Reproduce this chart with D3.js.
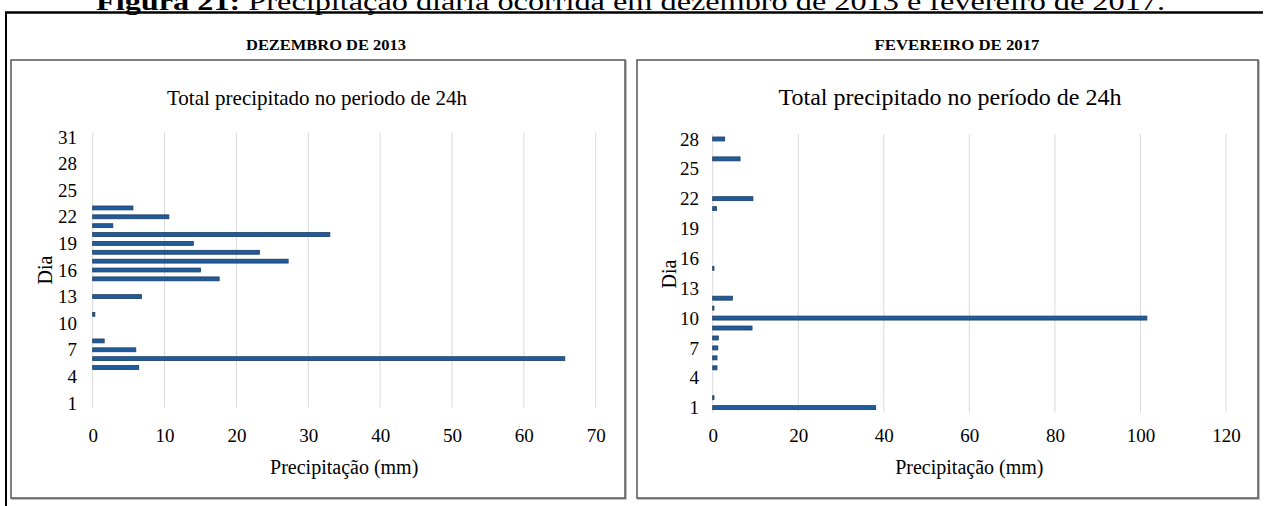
<!DOCTYPE html>
<meta charset="UTF-8">
<head>
<script src="https://d3js.org/d3.v7.min.js"></script>
</head>
<style>
body { margin: 0; background: #fff; }
.grid line { stroke: #d9d9d9; stroke-width: 1px; }
.tick-lbl { font-size: 19px; }
.bar { fill: #1f5c9c; stroke: #1d3c62; stroke-width: 0.8px; }
</style>
<body>
<div id="chart"></div>
<script>

// data
var dezDias    = [5, 6, 7, 8, 11, 13, 15, 16, 17, 18, 19, 20, 21, 22, 23];
var dezValores = [6.4, 65.7, 6.0, 1.6, 0.3, 6.8, 17.6, 15.0, 27.2, 23.2, 14.0, 33.0, 2.8, 10.6, 5.6];
var dezTicksY  = [1, 4, 7, 10, 13, 16, 19, 22, 25, 28, 31];
var dezTicksX  = [0, 10, 20, 30, 40, 50, 60, 70];

var fevDias    = [1, 2, 5, 6, 7, 8, 9, 10, 11, 12, 15, 21, 22, 26, 28];
var fevValores = [38.1, 0.3, 1.0, 1.0, 1.2, 1.3, 9.2, 101.5, 0.3, 4.6, 0.3, 0.9, 9.4, 6.4, 2.8];
var fevTicksY  = [1, 4, 7, 10, 13, 16, 19, 22, 25, 28];
var fevTicksX  = [0, 20, 40, 60, 80, 100, 120];

var W = 1265, H = 506;
var SERIF = "'Liberation Serif', Times, 'Times New Roman', serif";

var svg = d3.select("#chart").append("svg")
    .attr("width", W)
    .attr("height", H);

// caption (cut at top in the original)
var cap = svg.append("text")
    .attr("x", 96).attr("y", 10)
    .attr("textLength", 1069)
    .attr("lengthAdjust", "spacingAndGlyphs")
    .style("font-size", "25px");
cap.append("tspan").style("font-weight", "bold").text("Figura 21:");
cap.append("tspan").text(" Precipitação diária ocorrida em dezembro de 2013 e fevereiro de 2017.");

// outer frame
svg.append("line").attr("x1", 5).attr("x2", 1263).attr("y1", 12.5).attr("y2", 12.5)
    .attr("stroke", "#000").attr("stroke-width", 2.5);
svg.append("line").attr("x1", 6).attr("x2", 6).attr("y1", 12).attr("y2", H)
    .attr("stroke", "#000").attr("stroke-width", 2);

function painel(cfg) {
  // section header
  svg.append("text")
      .attr("x", cfg.headX).attr("y", 50)
      .attr("text-anchor", "middle")
      .attr("textLength", cfg.headW)
      .attr("lengthAdjust", "spacingAndGlyphs")
      .style("font-size", "14px").style("font-weight", "bold")
      .text(cfg.head);

  // inner box
  svg.append("rect")
      .attr("x", cfg.box[0] + 1).attr("y", 61)
      .attr("width", cfg.box[1] - cfg.box[0]).attr("height", 438)
      .attr("fill", "none").attr("stroke", "#aaa").attr("stroke-width", 1.5);
  svg.append("rect")
      .attr("x", cfg.box[0]).attr("y", 60)
      .attr("width", cfg.box[1] - cfg.box[0]).attr("height", 438)
      .attr("fill", "#fff").attr("stroke", "#555").attr("stroke-width", 1.5);

  var x = d3.scaleLinear().domain(cfg.xDom).range([cfg.x0, cfg.x1]);
  var y = d3.scaleBand()
      .domain(d3.range(1, cfg.nDias + 1))
      .range([cfg.yBot, cfg.yTop])
      .paddingInner(cfg.pad).paddingOuter(cfg.pad / 2);

  // title
  svg.append("text")
      .attr("x", cfg.titleX).attr("y", 105)
      .attr("text-anchor", "middle")
      .style("font-size", cfg.titleSize)
      .text(cfg.title);

  // gridlines
  svg.append("g").attr("class", "grid")
    .selectAll("line").data(cfg.ticksX).join("line")
      .attr("x1", d => x(d)).attr("x2", d => x(d))
      .attr("y1", cfg.yTop).attr("y2", cfg.yBot);

  // bars
  svg.append("g").selectAll("rect")
    .data(cfg.dias.map((d, i) => ({dia: d, v: cfg.valores[i]})))
    .join("rect")
      .attr("class", "bar")
      .attr("x", x(0))
      .attr("y", d => y(d.dia))
      .attr("width", d => Math.max(x(d.v) - x(0), 0.8))
      .attr("height", y.bandwidth());

  // x axis labels
  var xAxis = svg.append("g")
      .attr("transform", "translate(0,435)")
      .call(d3.axisBottom(x).tickValues(cfg.ticksX).tickSize(0).tickPadding(0));
  xAxis.select(".domain").remove();
  xAxis.attr("font-family", null).attr("font-size", null);
  xAxis.selectAll("text").attr("class", "tick-lbl").attr("y", 0).attr("dy", "0.35em").attr("fill", "#000");

  // y axis labels
  var yAxis = svg.append("g")
      .attr("transform", "translate(" + cfg.yLblX + ",0)")
      .call(d3.axisLeft(y).tickValues(cfg.ticksY).tickSize(0).tickPadding(0));
  yAxis.select(".domain").remove();
  yAxis.attr("font-family", null).attr("font-size", null);
  yAxis.selectAll("text").attr("class", "tick-lbl").attr("dy", "0.35em").attr("fill", "#000");

  // axis titles
  svg.append("text")
      .attr("x", (cfg.x0 + cfg.x1) / 2).attr("y", 474)
      .attr("text-anchor", "middle")
      .style("font-size", "20px")
      .text("Precipitação (mm)");
  svg.append("text")
      .attr("transform", "translate(" + cfg.diaX + "," + cfg.diaY + ") rotate(-90)")
      .attr("text-anchor", "middle")
      .style("font-size", "20px")
      .text("Dia");
}

painel({
  head: "DEZEMBRO DE 2013", headX: 326, headW: 160,
  box: [11, 625],
  title: "Total precipitado no periodo de 24h", titleX: 317, titleSize: "21px",
  dias: dezDias, valores: dezValores, nDias: 31,
  ticksX: dezTicksX, ticksY: dezTicksY,
  xDom: [0, 70], x0: 92.7, x1: 595.7,
  yTop: 132.6, yBot: 407.4, pad: 0.56,
  yLblX: 77, diaX: 52, diaY: 270
});

painel({
  head: "FEVEREIRO DE 2017", headX: 957, headW: 165,
  box: [637, 1258],
  title: "Total precipitado no período de 24h", titleX: 950, titleSize: "24px",
  dias: fevDias, valores: fevValores, nDias: 28,
  ticksX: fevTicksX, ticksY: fevTicksY,
  xDom: [0, 120], x0: 712.7, x1: 1226,
  yTop: 134, yBot: 412.6, pad: 0.6,
  yLblX: 699, diaX: 676, diaY: 274
});

// one serif face for every text
svg.selectAll("text").style("font-family", SERIF);

</script>
</body>
